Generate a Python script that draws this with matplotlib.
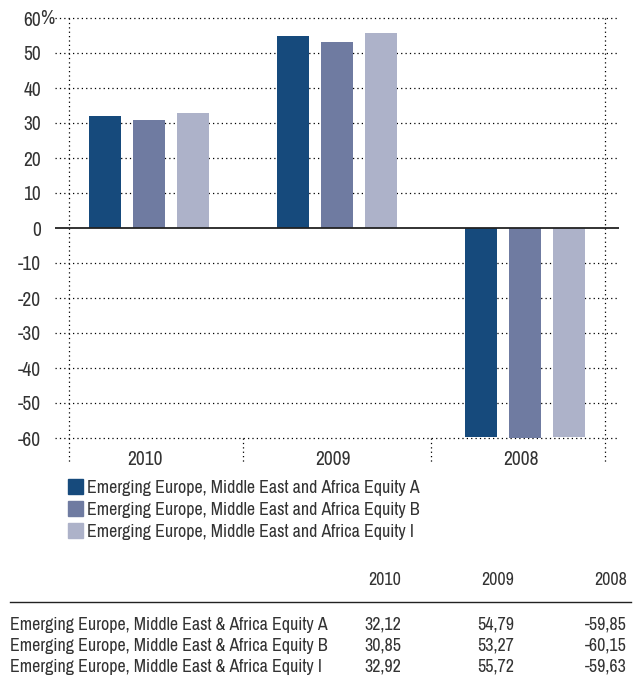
import matplotlib.pyplot as plt
import numpy as np
from matplotlib.patches import Patch
from matplotlib import font_manager

years = ["2010", "2009", "2008"]
series = ["Emerging Europe, Middle East and Africa Equity A",
          "Emerging Europe, Middle East and Africa Equity B",
          "Emerging Europe, Middle East and Africa Equity I"]
row_names = ["Emerging Europe, Middle East & Africa Equity A",
             "Emerging Europe, Middle East & Africa Equity B",
             "Emerging Europe, Middle East & Africa Equity I"]
equity_a = [32.12, 54.79, -59.85]
equity_b = [30.85, 53.27, -60.15]
equity_i = [32.92, 55.72, -59.63]
colors = ["#164a7c", "#6f7ba1", "#adb2c9"]
yticks = [60, 50, 40, 30, 20, 10, 0, -10, -20, -30, -40, -50, -60]

# prefer a narrow face if one is installed
names = sorted({f.name for f in font_manager.fontManager.ttflist
                if 'Narrow' in f.name or 'Condensed' in f.name})
if names:
    fam, small, big = names[0], 12.9, 14
else:
    fam, small, big = 'Roboto', 10.5, 12
plt.rcParams['font.family'] = [fam, 'DejaVu Sans']
txt = "#333333"

fig = plt.figure(figsize=(6.4, 6.79), dpi=100)
ax = fig.add_axes([55/640, 1-438/679, 564/640, 420/679])

x = np.arange(len(years))
w = 0.165
off = 0.234
for i, vals in enumerate([equity_a, equity_b, equity_i]):
    ax.bar(x + (i-1)*off, vals, w, color=colors[i], zorder=3)

ax.set_xlim(-0.5, 2.5)
ax.set_ylim(-60, 60)
ax.set_yticks(yticks)
ax.set_yticklabels([str(t) for t in yticks], fontsize=big, color=txt)
ax.set_xticks([])
for s in ax.spines.values():
    s.set_visible(False)
ax.tick_params(axis='y', length=0, pad=10)
# the % sign hangs past the other labels
ax.annotate('%', xy=(0, 60), xycoords=('axes fraction', 'data'),
            xytext=(-14.5, 0), textcoords='offset pixels', ha='left', va='center',
            fontsize=big, color=txt)
dot = (0, (1, 2.5))
for t in yticks:
    if t != 0:
        ax.axhline(t, color='black', lw=0.9, ls=dot, zorder=1, clip_on=False)
ax.axhline(0, color='#222222', lw=1.3, zorder=4)

# vertical dotted frame lines and category separators
for xv in [-0.426, 2.426]:
    ax.plot([xv, xv], [60, -66.9], color='black', lw=0.9, ls=dot,
            clip_on=False, zorder=2)
for xv in [0.5, 1.5]:
    ax.plot([xv, xv], [-60, -66.9], color='black', lw=0.9, ls=dot,
            clip_on=False, zorder=2)
for xi, yr in zip(x, years):
    ax.text(xi - 0.02, -66.2, yr, ha='center', va='center', fontsize=big, color=txt)

handles = [Patch(color=c) for c in colors]
fig.legend(handles, series, loc='upper left', bbox_to_anchor=(68/640, 1-479/679),
           frameon=False, fontsize=small, handlelength=0.83, handleheight=0.9,
           handletextpad=0.25, labelspacing=0.3, borderpad=0, borderaxespad=0,
           labelcolor=txt)

# table
col_right = [401, 514, 627]
for cx, yr in zip(col_right, years):
    fig.text(cx/640, 1-580/679, yr, ha='right', va='center', fontsize=small, color=txt)
fig.add_artist(plt.Line2D([10/640, 631/640], [1-602/679, 1-602/679], color='#222222', lw=1))
for r, vals in enumerate([equity_a, equity_b, equity_i]):
    yy = 1 - (625 + r*20.8)/679
    fig.text(10/640, yy, row_names[r], ha='left', va='center', fontsize=small, color=txt)
    for cx, v in zip(col_right, vals):
        fig.text(cx/640, yy, ("%.2f" % v).replace('.', ','), ha='right', va='center',
                 fontsize=small, color=txt)

fig.savefig("out.png", dpi=100)
